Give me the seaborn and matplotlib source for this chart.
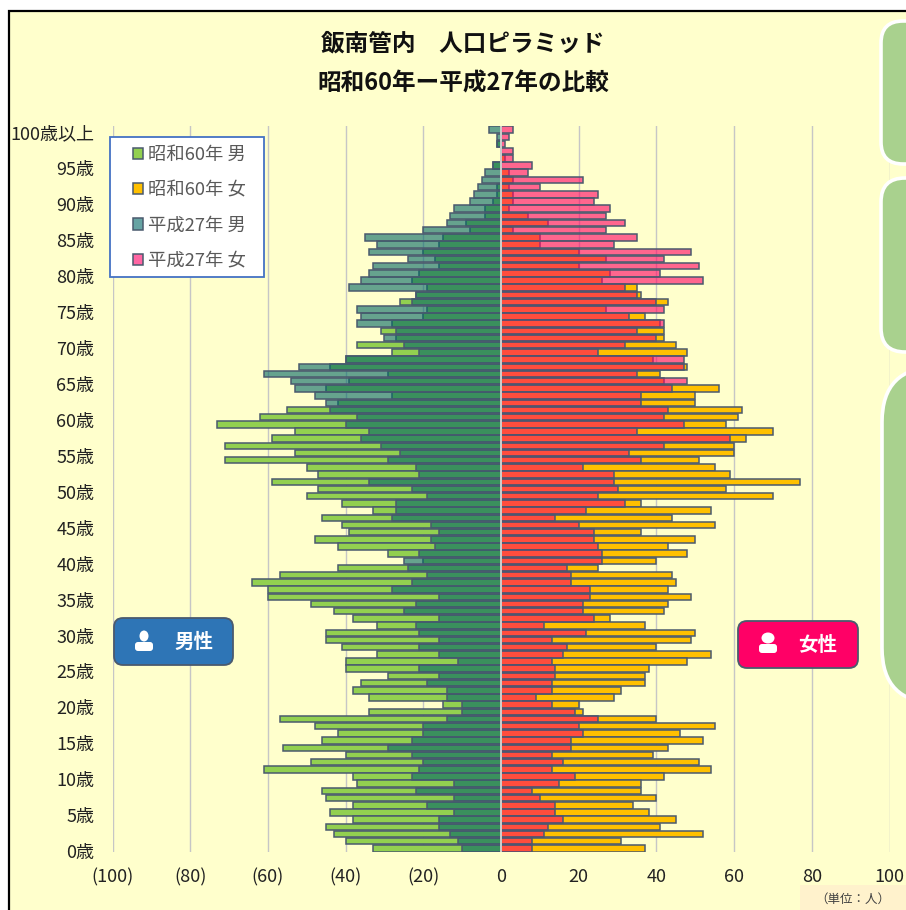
import matplotlib
matplotlib.use("Agg")
import matplotlib.pyplot as plt
import seaborn as sns
import pandas as pd
from matplotlib.colors import to_rgba
from matplotlib.patches import FancyBboxPatch, Rectangle, Ellipse
from matplotlib.transforms import Affine2D, ScaledTranslation

plt.rcParams['font.family'] = ['Noto Sans CJK JP', 'DejaVu Sans']

# ages run from 100+ (first) down to 0 (last)
ages = list(range(100, -1, -1))
male_s60 = [0,0,1,0,0,2,0,0,1,1,2,4,4,9,8,15,16,20,17,16,21,23,19,22,26,19,20,28,31,27,37,28,40,44,29,39,45,28,42,55,62,73,53,59,71,53,71,50,47,59,47,50,41,33,46,41,39,48,42,29,20,42,57,64,60,60,49,43,38,32,45,45,41,32,40,40,29,36,38,34,15,34,57,48,42,46,56,40,49,61,38,37,46,45,38,44,38,45,43,40,33]
male_h27 = [3,1,1,0,0,2,4,5,6,7,8,12,13,14,20,35,32,34,24,33,34,36,39,22,23,37,36,37,27,30,25,21,40,52,61,54,53,48,45,44,37,40,34,36,31,26,29,22,21,34,23,19,27,27,28,18,16,18,17,21,25,24,19,23,28,16,22,25,16,22,21,16,21,16,11,21,16,19,14,14,10,10,14,20,20,23,29,23,20,21,23,12,22,12,19,12,16,16,13,11,10]
female_s60 = [0,0,0,0,1,0,2,3,2,3,3,2,7,12,3,10,10,20,27,20,28,26,35,36,43,27,37,41,42,42,45,48,39,48,41,42,56,50,50,62,61,58,70,63,60,60,51,55,59,77,58,70,36,54,44,55,36,50,43,48,40,25,44,45,43,49,43,42,28,37,50,49,40,54,48,38,37,37,31,29,20,21,40,55,46,52,43,39,51,54,42,36,36,40,34,38,45,41,52,31,37]
female_h27 = [3,2,1,3,3,8,7,21,10,25,24,28,27,32,27,35,29,49,42,51,41,52,32,35,40,42,33,42,35,40,32,25,47,47,35,48,44,36,36,43,42,47,35,59,42,33,36,21,29,29,30,25,32,22,14,20,24,24,25,26,26,17,18,18,23,23,21,21,24,11,22,13,17,16,13,14,14,13,13,9,13,19,25,20,21,18,18,13,16,13,19,15,8,10,14,14,16,12,11,8,8]
x_ticks = [-100, -80, -60, -40, -20, 0, 20, 40, 60, 80, 100]
x_tick_labels = ["(100)", "(80)", "(60)", "(40)", "(20)", "0", "20", "40", "60", "80", "100"]
series_names = ["昭和60年 男", "昭和60年 女", "平成27年 男", "平成27年 女"]

W, H = 906, 910
CREAM = "#FFFFCC"
EDGE = "#4A5A6E"
fig = plt.figure(figsize=(W / 100, H / 100), dpi=100, facecolor="white")
px = Affine2D().scale(1 / W, -1 / H).translate(0, 1) + fig.transFigure

# backdrop
fig.add_artist(Rectangle((9, 11), W, H, transform=px, facecolor=CREAM,
                         edgecolor="black", linewidth=1.6, zorder=-5))

ax = fig.add_axes([112.5 / W, 1 - 852 / H, 777 / W, 726 / H], zorder=1)
ax.patch.set_alpha(0)

labels = [f"{a}歳" if a < 100 else "100歳以上" for a in ages]
df = pd.DataFrame({"age": labels,
                   "m60": [-v for v in male_s60], "f60": female_s60,
                   "m27": [-v for v in male_h27], "f27": female_h27})


def bars(col, color, name, alpha=None):
    before = len(ax.containers)
    sns.barplot(data=df, y="age", x=col, order=labels, orient="h", color=color,
                saturation=1, width=0.9, errorbar=None, label=name, ax=ax,
                edgecolor=EDGE, linewidth=1.1)
    for cont in ax.containers[before:]:
        for p in cont:
            p.set_facecolor(to_rgba(color, 1 if alpha is None else alpha))
            p.set_edgecolor(to_rgba(EDGE, 1))


bars("m60", "#92D050", series_names[0])
bars("f60", "#FFC000", series_names[1])
bars("m27", "#006666", series_names[2], 0.6)
bars("f27", "#FF0066", series_names[3], 0.6)

ax.set_xlim(-100, 100)
ax.set_ylim(100.5, -0.5)
ax.set_xlabel("")
ax.set_ylabel("")
for s in ax.spines.values():
    s.set_visible(False)
ax.set_axisbelow(True)
ax.xaxis.grid(True, color="#C6C6C6", linewidth=1)
ax.yaxis.grid(False)
ax.set_xticks(x_ticks, x_tick_labels)
shown = [i for i, a in enumerate(ages) if a % 5 == 0]
ax.set_yticks(shown, [labels[i] for i in shown])
ax.tick_params(axis="both", length=0, labelsize=13, labelcolor="#222222")
ax.tick_params(axis="x", pad=11.5)
ax.tick_params(axis="y", pad=13)
off = ScaledTranslation(0, -2 / 72, fig.dpi_scale_trans)
for t in ax.get_yticklabels():
    t.set_transform(t.get_transform() + off)
ax.axvline(0, color="#E4E4DC", linewidth=1.2, zorder=6)

# legend box + legend
ax.add_patch(Rectangle((110, 137), 154, 140, transform=px, facecolor="white",
                       edgecolor="#4472C4", linewidth=1.3, zorder=7, clip_on=False))
handles, leg_labels = ax.get_legend_handles_labels()
leg = ax.legend(handles, leg_labels, loc="upper left", frameon=False,
                bbox_to_anchor=(133 / W, 1 - 146 / H), bbox_transform=fig.transFigure,
                borderaxespad=0, borderpad=0, fontsize=13.2, labelcolor="#595959",
                handlelength=0.56, handleheight=0.56, handletextpad=0.28,
                labelspacing=0.94)
leg.set_zorder(8)

# overlay
ov = fig.add_axes([0, 0, 1, 1], zorder=3)
ov.set_xlim(0, W)
ov.set_ylim(H, 0)
ov.axis("off")


def rbox(x0, y0, x1, y1, r, **kw):
    ov.add_patch(FancyBboxPatch((x0 + r, y0 + r), x1 - x0 - 2 * r, y1 - y0 - 2 * r,
                                boxstyle=f"round,pad={r},rounding_size={r}", **kw))


for (y0, y1, r, x0) in [(21, 164, 22, 881), (178, 352, 24, 881), (367, 703, 55, 882)]:
    rbox(x0, y0, 1100, y1, r, facecolor="#A9D18E", edgecolor="white", linewidth=2.6)

rbox(114, 618, 233, 665, 9, facecolor="#2E75B6", edgecolor=EDGE, linewidth=1.3)
rbox(738, 621, 858, 668, 9, facecolor="#FF0066", edgecolor=EDGE, linewidth=1.3)
ov.text(194, 642, "男性", color="white", fontsize=14, fontweight="bold", ha="center", va="center")
ov.text(818, 645, "女性", color="white", fontsize=14, fontweight="bold", ha="center", va="center")
# person icons
ov.add_patch(Ellipse((144, 636), 9, 11, facecolor="white", edgecolor="none"))
rbox(135, 642, 153, 651, 3, facecolor="white", edgecolor="none")
ov.add_patch(Ellipse((768, 638), 13, 11, facecolor="white", edgecolor="none"))
rbox(759, 644, 777, 653, 3, facecolor="white", edgecolor="none")

# titles
ov.text(463, 43, "飯南管内　人口ピラミッド", fontsize=17, fontweight="bold", color="#111111",
        ha="center", va="center")
ov.text(463, 84, "昭和60年ー平成27年の比較", fontsize=17, fontweight="bold", color="#111111",
        ha="center", va="center")

# unit note
ov.add_patch(Rectangle((800, 885), 106, 25, facecolor="#FFF2CC", edgecolor="none"))
ov.text(853, 899, "（単位：人）", fontsize=9, color="#404040", ha="center", va="center")

fig.savefig("out.png", dpi=100, facecolor="white")
